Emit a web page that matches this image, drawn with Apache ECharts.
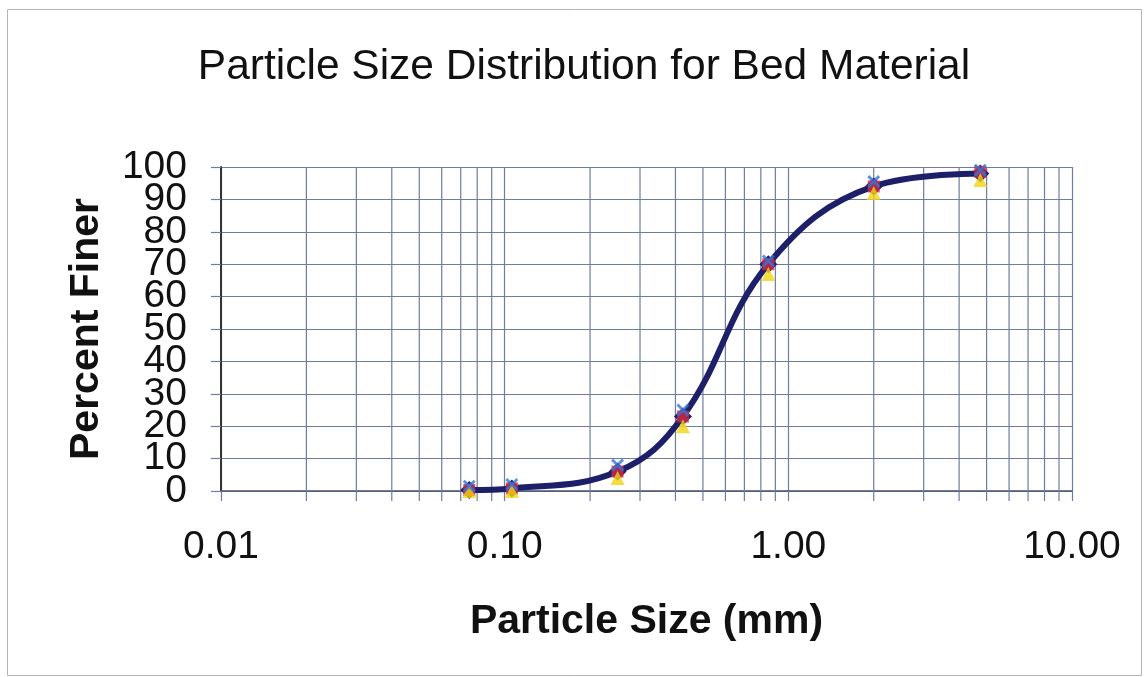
<!DOCTYPE html>
<html>
<head>
<meta charset="utf-8">
<title>Particle Size Distribution for Bed Material</title>
<script src="https://cdn.jsdelivr.net/npm/echarts@6/dist/echarts.min.js"></script>
<style>
  html, body { margin: 0; padding: 0; background: #ffffff; }
  #chart { width: 1148px; height: 677px; }
</style>
</head>
<body>
<div id="chart"></div>
<script>
// Sieve sizes (mm) and percent finer for each test run
const sieveSizes = [0.075, 0.106, 0.25, 0.425, 0.85, 2.0, 4.75];
const runA = [0.3, 0.8, 6, 23, 70, 94, 98];      // navy diamonds + curve
const runB = [0.3, 0.8, 6, 23, 70, 94, 98.5];    // red squares
const runC = [0, 0, 4, 20, 67, 92, 96];          // yellow triangles
const runD = [1.5, 2, 8, 25, 71, 95.5, 99];      // blue crosses

// Log-axis gridline positions
const xTickLabels = ['0.01', '0.10', '1.00', '10.00'];
const decades = [0.01, 0.1, 1];
const minorSteps = [2, 3, 4, 5, 6, 7, 8, 9];

const minorValues = [];
decades.forEach(d => minorSteps.forEach(s => minorValues.push([+(d * s).toPrecision(3), 0])));

const pairs = arr => sieveSizes.map((x, i) => [x, arr[i]]);

const FONT = '"Liberation Sans", Arial, sans-serif';
const GRID_COLOR = '#6f7c9c';
const crossPath = 'path://M0,1.6 L1.6,0 L5,3.4 L8.4,0 L10,1.6 L6.6,5 L10,8.4 L8.4,10 L5,6.6 L1.6,10 L0,8.4 L3.4,5 Z';

// The 0..100 labels sit very close together, so they are split over two
// coincident axes (even / odd tens) to keep every one of them visible.
const yLabelStyle = parity => ({
  margin: 34,
  fontFamily: FONT,
  fontSize: 39,
  color: '#111111',
  padding: [6, 0, 0, 0],
  showMinLabel: true,
  showMaxLabel: true,
  formatter: v => (Math.round(v / 10) % 2 === parity ? String(v) : '')
});

const chart = echarts.init(document.getElementById('chart'), null, { renderer: 'canvas' });

chart.setOption({
  backgroundColor: '#ffffff',
  animation: false,
  graphic: [
    {
      type: 'rect',
      shape: { x: 7.5, y: 9.5, width: 1134, height: 666 },
      style: { fill: 'none', stroke: '#b4b4b4', lineWidth: 1 },
      silent: true
    },
    {
      type: 'text',
      x: 584,
      y: 67,
      style: {
        text: 'Particle Size Distribution for Bed Material',
        font: '42.5px ' + FONT,
        fill: '#111111',
        textAlign: 'center',
        textVerticalAlign: 'middle'
      }
    }
  ],
  grid: { left: 221, right: 76, top: 167, bottom: 186, containLabel: false },
  xAxis: {
    type: 'log',
    logBase: 10,
    min: 0.01,
    max: 10,
    name: 'Particle Size (mm)',
    nameLocation: 'middle',
    nameGap: 110,
    nameTextStyle: { fontFamily: FONT, fontSize: 41, fontWeight: 'bold', color: '#111111' },
    axisLine: { show: true, lineStyle: { color: '#4a5270', width: 1.5 } },
    axisTick: { show: true, inside: false, length: 10, lineStyle: { color: GRID_COLOR, width: 1.2 } },
    axisLabel: {
      margin: 37,
      fontFamily: FONT,
      fontSize: 39,
      color: '#111111',
      showMinLabel: true,
      showMaxLabel: true,
      formatter: v => {
        const i = Math.round(Math.log10(v)) + 2;
        return xTickLabels[i] !== undefined ? xTickLabels[i] : '';
      }
    },
    splitLine: { show: true, lineStyle: { color: GRID_COLOR, width: 1.2 } },
    minorTick: { show: false },
    minorSplitLine: { show: false }
  },
  yAxis: [
    {
      type: 'value',
      position: 'left',
      min: 0,
      max: 100,
      interval: 10,
      name: 'Percent Finer',
      nameLocation: 'middle',
      nameGap: 114,
      nameTextStyle: { fontFamily: FONT, fontSize: 41, fontWeight: 'bold', color: '#111111' },
      axisLine: { show: true, lineStyle: { color: '#333333', width: 2 } },
      axisTick: { show: true, inside: false, length: 10, lineStyle: { color: GRID_COLOR, width: 1.2 } },
      axisLabel: yLabelStyle(0),
      splitLine: { show: true, lineStyle: { color: GRID_COLOR, width: 1.2 } }
    },
    {
      type: 'value',
      position: 'left',
      offset: 0,
      min: 0,
      max: 100,
      interval: 10,
      axisLine: { show: false },
      axisTick: { show: false },
      axisLabel: yLabelStyle(1),
      splitLine: { show: false }
    }
  ],
  series: [
    {
      // minor log gridlines (2..9 within each decade), extending below the axis as ticks
      type: 'custom',
      silent: true,
      z: 1,
      clip: false,
      data: minorValues,
      encode: { x: 0, y: 1 },
      renderItem: (params, api) => {
        const top = api.coord([api.value(0), 100]);
        const bottom = api.coord([api.value(0), 0]);
        return {
          type: 'line',
          shape: { x1: top[0], y1: top[1], x2: bottom[0], y2: bottom[1] + 10 },
          style: { stroke: GRID_COLOR, lineWidth: 1.2 }
        };
      }
    },
    {
      name: 'Run A',
      type: 'line',
      z: 3,
      data: pairs(runA),
      smooth: 0.4,
      symbol: 'diamond',
      symbolSize: 18,
      itemStyle: { color: '#1d2068' },
      lineStyle: { color: '#1d2068', width: 6 }
    },
    {
      name: 'Run B',
      type: 'scatter',
      z: 4,
      data: pairs(runB),
      symbol: 'rect',
      symbolSize: 12,
      itemStyle: { color: '#d42a44' }
    },
    {
      name: 'Run C',
      type: 'scatter',
      z: 5,
      clip: false,
      data: pairs(runC),
      symbol: 'triangle',
      symbolSize: 14,
      itemStyle: { color: '#f2d312' }
    },
    {
      name: 'Run D',
      type: 'scatter',
      z: 6,
      data: pairs(runD),
      symbol: crossPath,
      symbolSize: 13,
      itemStyle: { color: '#3474d6' }
    }
  ]
});
</script>
</body>
</html>
